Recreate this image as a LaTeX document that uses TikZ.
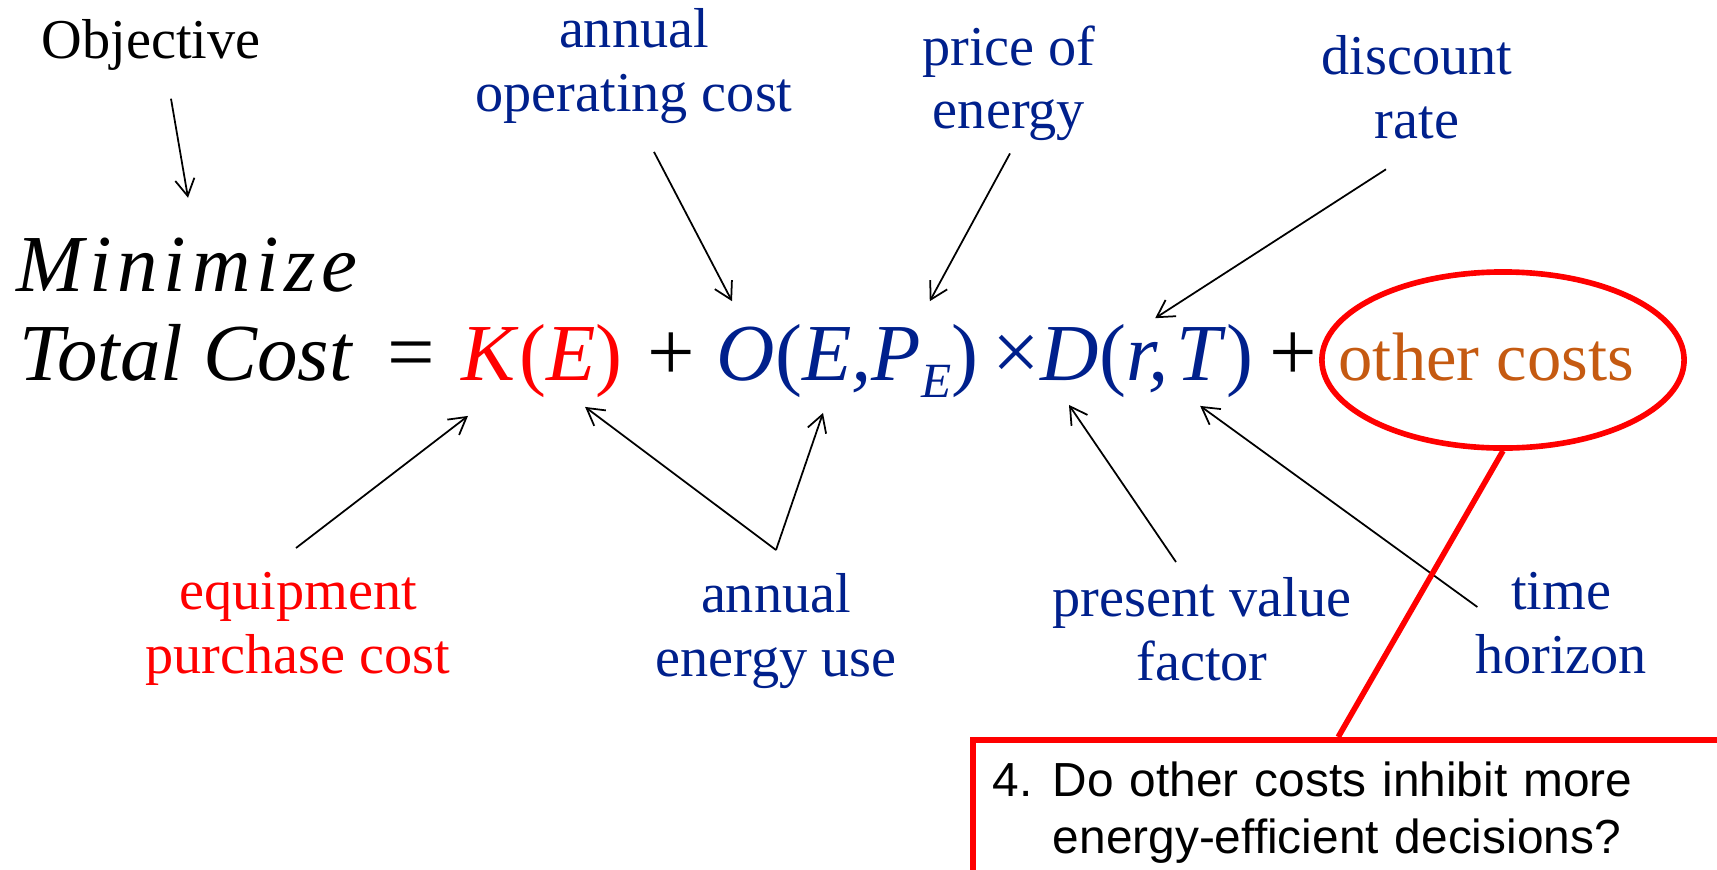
\documentclass[tikz,border=0pt]{standalone}
\usepackage{fontspec}
\setmainfont{Liberation Serif}
\setsansfont{Liberation Sans}
\usetikzlibrary{arrows.meta,shapes.geometric}

\definecolor{costblue}{HTML}{00208C}
\definecolor{costred}{HTML}{FF0000}
\definecolor{otherorange}{HTML}{C55A11}
\setlength{\parindent}{0pt}

\tikzset{
  termtext/.style={font=\fontsize{16}{18}\selectfont, inner sep=0pt, align=center, anchor=north},
  eqpart/.style={font=\itshape\fontsize{23}{27}\selectfont, inner sep=0pt, anchor=base west},
  equpright/.style={eqpart, font=\upshape\fontsize{24}{27}\selectfont},
  pointer/.style={-{Straight Barb[length=4.8pt,width=5.5pt]}, line width=0.5pt},
  redline/.style={draw=costred, line width=1.6pt},
  ring/.style={ellipse, redline, minimum width=3.62cm, minimum height=1.76cm, inner sep=0pt},
  qbox/.style={redline, anchor=north west, text width=7.8cm, align=left,
    inner xsep=0.2cm, inner ysep=0.22cm, font=\sffamily\fontsize{13.6}{16.3}\selectfont}
}

\begin{document}
\begin{tikzpicture}[x=0.01cm, y=-0.01cm]

  \useasboundingbox (0,0) rectangle (1717,869);
  \clip (0,0) rectangle (1717,869);

  %----- OBJECTIVE -----
  \node[eqpart] (minimize) at (16,291) {\addfontfeatures{LetterSpace=7}Minimize};
  \node[eqpart] (total) at (19,380) {Total Cost};
  \node[equpright] (equals) at (387,380) {=};
  \node[eqpart, text=costred] (KE) at (461,380) {K\textup{(}E\textup{)}};
  \node[equpright] (plusK) at (647,380) {+};
  \node[eqpart, text=costblue] (OPE) at (716,380)
    {O\textup{(}E,P\raisebox{-1.7mm}{\fontsize{14}{14}\selectfont E}\textup{)}};
  \node[equpright, text=costblue] (times) at (992,380) {\texttimes};
  \node[eqpart, text=costblue] (DRT) at (1040,380) {D\textup{(}r,\kern0.8mm T\textup{)}};
  \node[equpright] (plusD) at (1269,380) {+};
  \node[eqpart, font=\fontsize{19.5}{23}\selectfont, text=otherorange] (other) at (1338,380) {other costs};
  \node[ring] (ring) at (1503,360) {};

  %----- LABELS ABOVE -----
  \node[termtext, anchor=base] (objective) at (151,58) {Objective};
  \node[termtext, text=costblue] (opcost) at (634,8) {annual\\operating cost};
  \node[termtext, text=costblue] (energyprice) at (1009,25) {price of\\energy};
  \node[termtext, text=costblue] (discount) at (1417,35) {discount\\rate};

  %----- LABELS BELOW -----
  \node[termtext, text=costred] (purchase) at (298,572) {equipment\\purchase cost};
  \node[termtext, text=costblue] (energyuse) at (776,573) {annual\\energy use};
  \node[termtext, text=costblue] (pvfactor) at (1202,577) {present value\\factor};
  \node[termtext, text=costblue] (horizon) at (1561,572) {time\\horizon};

  %----- POINTERS -----
  \draw[pointer] ([shift={(20,28)}]objective.south) -- ([shift={(172,-39)}]minimize.north west);
  \draw[pointer] ([shift={(20,28)}]opcost.south) -- ([shift={(16,-22)}]OPE.north west);
  \draw[pointer] ([shift={(1,12)}]energyprice.south) -- ([shift={(-49,-22)}]OPE.north east);
  \draw[pointer] ([shift={(-31,30)}]discount.south) -- ([shift={(-99,-5)}]DRT.north east);
  \draw[pointer] ([shift={(-2,-24)}]purchase.north) -- ([shift={(7,18)}]KE.south west);
  \draw[pointer] ([shift={(0,-23)}]energyuse.north) -- ([shift={(-38,9)}]KE.south east);
  \draw[pointer] ([shift={(0,-23)}]energyuse.north) -- ([shift={(107,15)}]OPE.south west);
  \draw[pointer] ([shift={(-26,-15)}]pvfactor.north) -- ([shift={(29,7)}]DRT.south west);
  \draw[pointer] ([shift={(3,35)}]horizon.north west) -- ([shift={(-54,8)}]DRT.south east);

  %----- QUESTION BOX -----
  \node[qbox] (question) at (970,737)
    {\makebox[6mm][l]{4.}Do other costs inhibit more\\\hspace*{6mm}energy-efficient decisions?};
  \draw[redline] (ring.south) -- ([xshift=3.68cm]question.north west);

\end{tikzpicture}
\end{document}
